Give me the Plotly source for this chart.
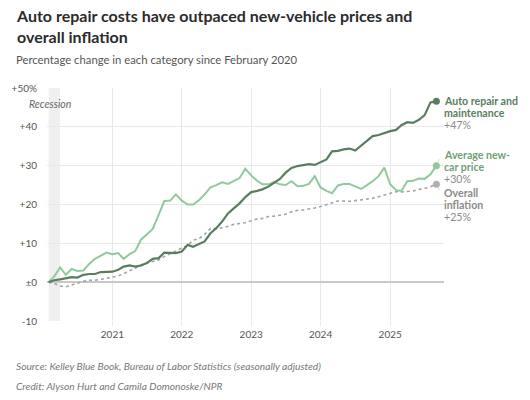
import plotly.graph_objects as go
import pandas as pd

# ---- data (percent change since Feb 2020, monthly) ----
months = pd.date_range("2020-02-01", "2025-09-01", freq="MS")

auto_repair = [0, 0.5, 0.7, 1.0, 1.3, 1.2, 1.9, 2.1, 2.1, 2.6, 2.6, 2.7,
               3.2, 4.0, 4.3, 4.0, 4.3, 4.9, 6.0, 6.2, 7.6, 7.6, 7.5, 7.9,
               9.6, 9.1, 9.8, 10.5, 12.6, 13.9, 15.6, 17.7, 19.0, 20.3, 21.9, 23.2,
               23.5, 23.9, 24.6, 25.6, 26.6, 28.2, 29.4, 29.9, 30.2, 30.4, 30.2, 31.0,
               31.6, 33.7, 33.8, 34.2, 34.4, 33.9, 35.2, 36.5, 37.6, 37.9, 38.4, 38.9,
               39.2, 40.4, 41.2, 41.0, 41.8, 43.0, 46.3, 46.6]

new_car = [0, 1.5, 3.8, 1.9, 3.4, 2.9, 3.0, 4.7, 6.0, 6.8, 7.6, 7.2,
           7.5, 6.0, 7.2, 8.0, 11.0, 12.3, 13.7, 17.3, 20.9, 21.0, 22.6, 21.0,
           20.0, 20.0, 21.1, 22.6, 24.4, 25.0, 25.7, 25.3, 26.0, 26.8, 29.2, 27.5,
           26.1, 25.2, 25.2, 25.8, 25.2, 25.0, 26.0, 24.7, 24.8, 25.3, 27.3, 24.4,
           23.5, 22.9, 24.9, 25.3, 25.3, 24.6, 24.0, 25.0, 26.0, 27.3, 29.5, 25.2,
           23.7, 23.5, 26.0, 26.1, 26.7, 26.6, 27.8, 30.0]

overall_cpi = [0, -0.3, -1.0, -1.2, -0.7, -0.2, 0.2, 0.5, 0.5, 0.7, 1.0, 1.2,
               1.6, 2.2, 2.9, 3.6, 4.5, 5.0, 5.3, 5.7, 6.6, 7.3, 7.9, 8.6,
               9.5, 10.8, 11.2, 12.3, 13.8, 13.8, 14.0, 14.4, 14.9, 15.1, 15.3, 15.8,
               16.3, 16.4, 16.9, 17.0, 17.3, 17.5, 18.1, 18.5, 18.6, 18.8, 19.1, 19.5,
               20.0, 20.5, 20.9, 20.9, 20.8, 21.0, 21.2, 21.4, 21.6, 22.0, 22.4, 23.0,
               23.3, 23.2, 23.4, 23.5, 23.9, 24.1, 24.6, 25.2]

series_names = [["Auto repair and", "maintenance"], ["Average new-", "car price"], ["Overall", "inflation"]]
series_final = ["+47%", "+30%", "+25%"]

y_tickvals = [-10, 0, 10, 20, 30, 40, 50]
y_ticktext = ["-10", "±0", "+10", "+20", "+30", "+40", "+50%"]
x_tickvals = ["2021-01-01", "2022-01-01", "2023-01-01", "2024-01-01", "2025-01-01"]
x_ticktext = ["2021", "2022", "2023", "2024", "2025"]
recession = ["2020-02-01", "2020-04-01"]

FONT = "Lato"
DARK = "#5b7d5f"
LIGHT = "#90c99c"
GREY = "#a3a3a3"

PL, PR, PT, PB = 41, 86, 88, 79
pw, ph = 530 - PL - PR, 400 - PT - PB


def px_x(px):
    return (px - PL) / pw


def px_y(py):
    return (400 - PB - py) / ph


fig = go.Figure()

fig.add_vrect(x0=recession[0], x1=recession[1], fillcolor="#efefef", line_width=0, layer="below")

fig.add_trace(go.Scatter(x=months, y=overall_cpi, mode="lines",
                         line=dict(color=GREY, width=1.6, dash="dot"), hoverinfo="skip"))
fig.add_trace(go.Scatter(x=months, y=new_car, mode="lines",
                         line=dict(color=LIGHT, width=2), hoverinfo="skip"))
fig.add_trace(go.Scatter(x=months, y=auto_repair, mode="lines",
                         line=dict(color=DARK, width=2.2), hoverinfo="skip"))

# small leader lines from end markers toward labels
fig.add_annotation(x=months[-1], y=new_car[-1], xref="x", yref="y", text=" ", showarrow=True,
                   arrowhead=0, arrowwidth=1, arrowcolor="#c5e3cb", ax=6, ay=-13, standoff=4)
fig.add_annotation(x=months[-1], y=overall_cpi[-1], xref="x", yref="y", text=" ", showarrow=True,
                   arrowhead=0, arrowwidth=1, arrowcolor="#d5d5d5", ax=6, ay=11, standoff=4)

# end markers
for vals, col in [(overall_cpi, "#b0b0b0"), (new_car, LIGHT), (auto_repair, DARK)]:
    fig.add_trace(go.Scatter(x=[months[-1]], y=[vals[-1]], mode="markers",
                             marker=dict(color=col, size=7), hoverinfo="skip"))

# right-hand labels, one annotation per line
label_specs = [
    (series_names[0], series_final[0], 46.7, "#5b7d5f"),
    (series_names[1], series_final[1], 32.7, "#6f9f76"),
    (series_names[2], series_final[2], 22.9, "#8a8a8a"),
]
LINE = 3.05  # value units between lines (~11.9px)
for lines, pct, ytop, col in label_specs:
    for i, t in enumerate(lines):
        fig.add_annotation(x=1, xref="paper", xanchor="left", xshift=-2,
                           y=ytop - i * LINE, yref="y", yanchor="middle",
                           text="<b>" + t + "</b>", showarrow=False,
                           font=dict(family=FONT, size=10.6, color=col))
    fig.add_annotation(x=1, xref="paper", xanchor="left", xshift=-2,
                       y=ytop - 2 * LINE, yref="y", yanchor="middle",
                       text=pct, showarrow=False,
                       font=dict(family=FONT, size=10.6, color="#8a8a8a"))

fig.add_annotation(x="2020-03-01", y=45.8, xref="x", yref="y", text="<i>Recession</i>", xshift=-4,
                   showarrow=False, font=dict(family=FONT, size=10.5, color="#666"))

# title, subtitle, source, credit
fig.add_annotation(x=px_x(7), y=px_y(4), xref="paper", yref="paper", xanchor="left", yanchor="top",
                   align="left",
                   text="<b>Auto repair costs have outpaced new-vehicle prices and<br>overall inflation</b>",
                   showarrow=False, font=dict(family=FONT, size=16, color="#2b2b2b"))
fig.add_annotation(x=px_x(7), y=px_y(59.5), xref="paper", yref="paper", xanchor="left", yanchor="middle",
                   text="Percentage change in each category since February 2020", showarrow=False,
                   font=dict(family=FONT, size=11.3, color="#555"))
fig.add_annotation(x=px_x(7), y=px_y(366), xref="paper", yref="paper", xanchor="left", yanchor="middle",
                   text="<i>Source: Kelley Blue Book, Bureau of Labor Statistics (seasonally adjusted)</i>",
                   showarrow=False, font=dict(family=FONT, size=10.2, color="#777"))
fig.add_annotation(x=px_x(7), y=px_y(386), xref="paper", yref="paper", xanchor="left", yanchor="middle",
                   text="<i>Credit: Alyson Hurt and Camila Domonoske/NPR</i>",
                   showarrow=False, font=dict(family=FONT, size=10.2, color="#777"))

fig.update_layout(
    width=530, height=400,
    margin=dict(l=PL, r=PR, t=PT, b=PB),
    paper_bgcolor="white", plot_bgcolor="white",
    showlegend=False,
    xaxis=dict(range=["2020-01-23", "2025-10-11"], tickvals=x_tickvals, ticktext=x_ticktext,
               showgrid=True, gridcolor="#e8e8e8", gridwidth=1, zeroline=False, showline=False,
               ticks="outside", ticklen=4, tickcolor="#e8e8e8",
               tickfont=dict(family=FONT, size=10, color="#555")),
    yaxis=dict(range=[-10, 50], tickvals=y_tickvals, ticktext=y_ticktext,
               showgrid=True, gridcolor="#e8e8e8", gridwidth=1,
               zeroline=True, zerolinecolor="#c8c8c8", zerolinewidth=1.5, showline=False,
               ticklabelstandoff=9,
               tickfont=dict(family=FONT, size=10, color="#555")),
)

fig.write_html("out.html")
